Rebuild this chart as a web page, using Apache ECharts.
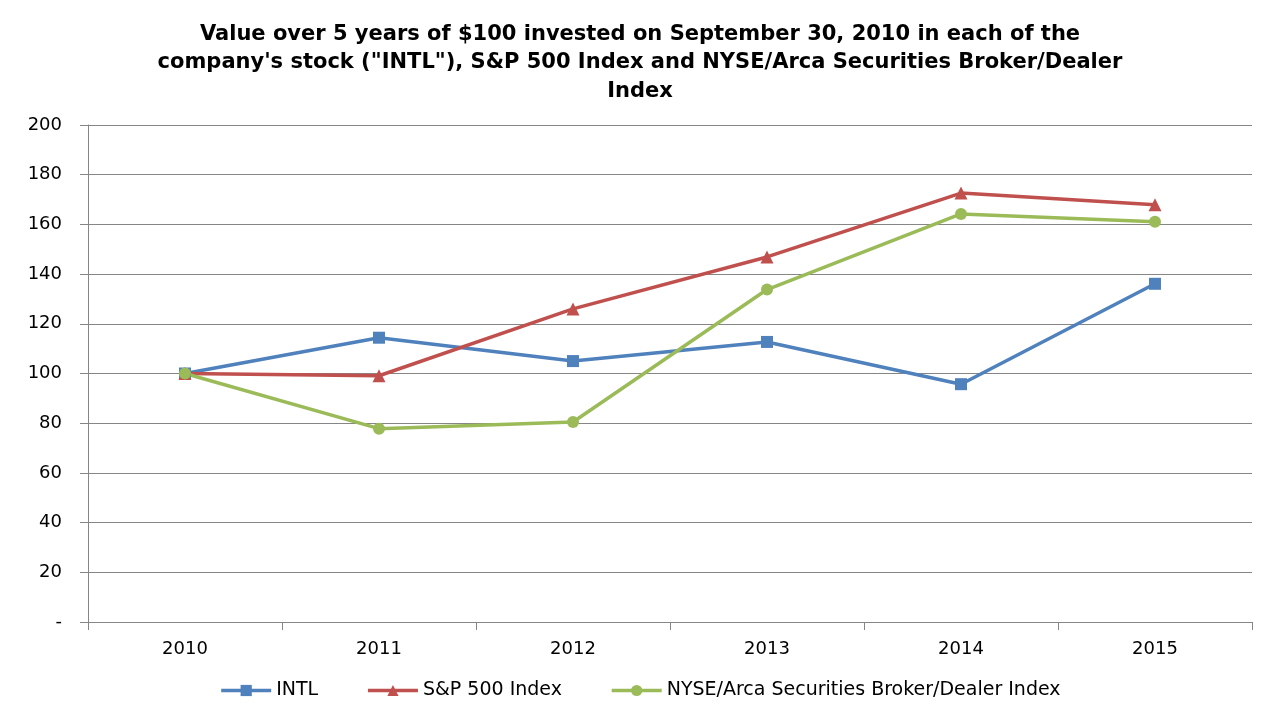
<!DOCTYPE html>
<html><head><meta charset="utf-8">
<script src="https://cdn.jsdelivr.net/npm/echarts@6/dist/echarts.min.js"></script>
<style>html,body{margin:0;padding:0;background:#fff}#c{width:1280px;height:720px}</style>
</head><body><div id="c"></div>
<script>
var years = ['2010','2011','2012','2013','2014','2015'];
var intl = [100, 114.4, 105.0, 112.7, 95.7, 136.1];
var sp500 = [100, 99.1, 126.0, 146.9, 172.6, 167.9];
var nyse = [100, 77.8, 80.5, 133.8, 164.2, 161.1];
var yTicks = ['-', '20', '40', '60', '80', '100', '120', '140', '160', '180', '200'];

var font = '"DejaVu Sans", sans-serif';
var chart = echarts.init(document.getElementById('c'));
function ser(name, data, color, symbol, size) {
  return {
    name: name, type: 'line', data: data, symbol: symbol, symbolSize: size,
    lineStyle: {color: color, width: 3.5}, itemStyle: {color: color},
    emphasis: {disabled: true}
  };
}
chart.setOption({
  animation: false,
  title: {
    text: 'Value over 5 years of $100 invested on September 30, 2010 in each of the\ncompany\'s stock ("INTL"), S&P 500 Index and NYSE/Arca Securities Broker/Dealer\nIndex',
    left: 'center', top: 15,
    textStyle: {fontFamily: font, fontWeight: 'bold', fontSize: 21, color: '#000', lineHeight: 28.5}
  },
  legend: {
    bottom: 15, left: 'center', itemWidth: 50, itemHeight: 14, itemGap: 48,
    lineStyle: {width: 3.5},
    textStyle: {fontFamily: font, fontSize: 19, color: '#000'},
    data: ['INTL', 'S&P 500 Index', 'NYSE/Arca Securities Broker/Dealer Index']
  },
  grid: {left: 88, right: 28, top: 125, bottom: 98, containLabel: false},
  xAxis: {
    type: 'category', data: years, boundaryGap: true,
    axisLine: {lineStyle: {color: '#868686', width: 1}},
    axisTick: {show: true, length: 8, lineStyle: {color: '#868686'}},
    axisLabel: {fontFamily: font, fontSize: 18, color: '#000', margin: 18}
  },
  yAxis: {
    type: 'value', min: 0, max: 200, interval: 20,
    axisLine: {show: true, lineStyle: {color: '#868686', width: 1}},
    axisTick: {show: true, length: 8, lineStyle: {color: '#868686'}},
    splitLine: {lineStyle: {color: '#868686', width: 1}},
    axisLabel: {fontFamily: font, fontSize: 18, color: '#000', margin: 26,
      formatter: function (v) { return yTicks[Math.round(v / 20)]; }}
  },
  series: [
    ser('INTL', intl, '#4F81BD', 'rect', 12),
    ser('S&P 500 Index', sp500, '#C0504D', 'triangle', 13),
    ser('NYSE/Arca Securities Broker/Dealer Index', nyse, '#9BBB59', 'circle', 12)
  ]
});
</script></body></html>
